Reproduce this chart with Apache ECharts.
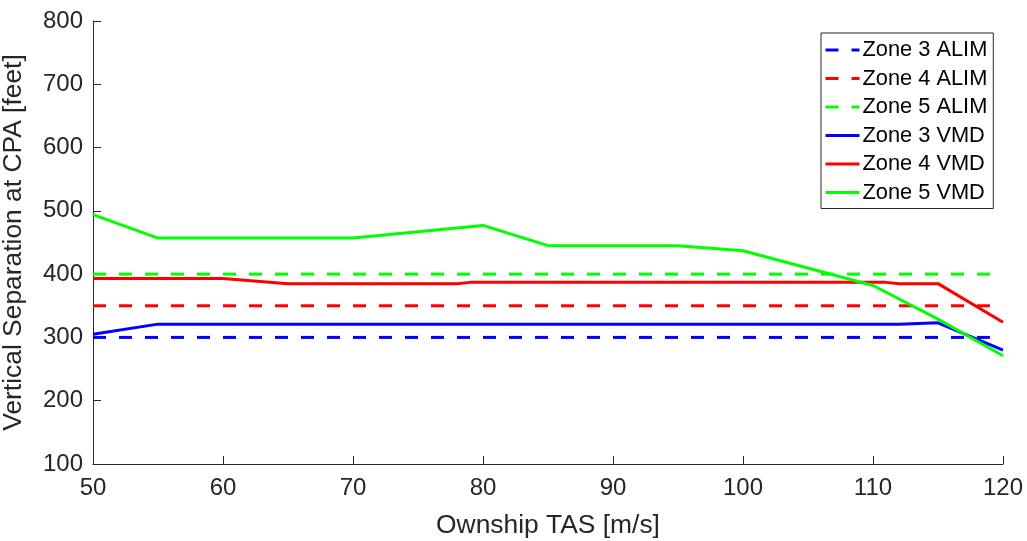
<!DOCTYPE html>
<html>
<head>
<meta charset="utf-8">
<script src="https://cdn.jsdelivr.net/npm/echarts@6/dist/echarts.min.js"></script>
<style>
  html, body { margin: 0; padding: 0; background: #fff; }
  #chart { width: 1027px; height: 541px; }
</style>
</head>
<body>
<div id="chart"></div>
<script>
// ownship true airspeed [m/s] and vertical separation at CPA [feet]
const alimTas = [50, 120];
const zone3Alim = [300, 300];
const zone4Alim = [350, 350];
const zone5Alim = [400, 400];

const zone3VmdTas = [50, 55, 112, 115, 120];
const zone3Vmd = [305, 321, 321, 323, 280];

const zone4VmdTas = [50, 60, 65, 78, 79, 111, 112, 115, 120];
const zone4Vmd = [393, 393, 385, 385, 387, 387, 385, 385, 324];

const zone5VmdTas = [50, 55, 70, 80, 85, 95, 100, 110, 115, 120];
const zone5Vmd = [494, 457, 457, 477, 445, 445, 437, 382, 329, 271];

const xTicks = [50, 60, 70, 80, 90, 100, 110, 120];
const yTicks = [100, 200, 300, 400, 500, 600, 700, 800];

const FONT = '"Liberation Sans", Arial, Helvetica, sans-serif';
const INK = '#262626';

function pairs(xs, ys) {
    return xs.map((x, i) => [x, ys[i]]);
}

function line(name, xs, ys, color, dashed) {
    return {
        name: name,
        type: 'line',
        data: pairs(xs, ys),
        symbol: 'none',
        silent: true,
        lineStyle: {
            color: color,
            width: 3,
            type: dashed ? [13, 13] : 'solid'
        },
        itemStyle: { color: color }
    };
}

let chart = echarts.init(document.getElementById('chart'));
chart.setOption({
    animation: false,
    backgroundColor: '#fff',
    textStyle: { fontFamily: FONT },
    grid: { left: 93, right: 24, top: 21, bottom: 77, containLabel: false, outerBoundsMode: 'none' },
    legend: {
        orient: 'vertical',
        left: 821,
        top: 33,
        padding: [5, 6, 4, 3],
        itemGap: 4.5,
        itemWidth: 34,
        itemHeight: 6,
        backgroundColor: '#fff',
        borderColor: INK,
        borderWidth: 1,
        borderRadius: 0,
        itemStyle: { opacity: 0 },
        lineStyle: { width: 3 },
        textStyle: {
            fontFamily: FONT,
            fontSize: 21.8,
            lineHeight: 24,
            color: '#000',
            padding: [0, 0, 0, -2]
        },
        data: ['Zone 3 ALIM', 'Zone 4 ALIM', 'Zone 5 ALIM', 'Zone 3 VMD', 'Zone 4 VMD', 'Zone 5 VMD']
    },
    xAxis: {
        type: 'value',
        min: xTicks[0],
        max: xTicks[xTicks.length - 1],
        interval: 10,
        name: 'Ownship TAS [m/s]',
        nameLocation: 'middle',
        nameGap: 49,
        nameTextStyle: { fontFamily: FONT, fontSize: 26.4, color: INK },
        axisLine: { lineStyle: { color: INK, width: 1 } },
        axisTick: { inside: true, length: 8, lineStyle: { color: INK } },
        axisLabel: { fontFamily: FONT, fontSize: 24, color: INK, margin: 12 },
        splitLine: { show: false }
    },
    yAxis: {
        type: 'value',
        min: yTicks[0],
        max: yTicks[yTicks.length - 1],
        interval: 100,
        name: 'Vertical Separation at CPA [feet]',
        nameLocation: 'middle',
        nameGap: 66,
        nameTextStyle: { fontFamily: FONT, fontSize: 26.4, color: INK },
        axisLine: { show: true, lineStyle: { color: INK, width: 1 } },
        axisTick: { show: true, inside: true, length: 8, lineStyle: { color: INK } },
        axisLabel: { fontFamily: FONT, fontSize: 24, color: INK, margin: 10 },
        splitLine: { show: false }
    },
    series: [
        line('Zone 3 ALIM', alimTas, zone3Alim, '#0000ff', true),
        line('Zone 4 ALIM', alimTas, zone4Alim, '#ff0000', true),
        line('Zone 5 ALIM', alimTas, zone5Alim, '#00ff00', true),
        line('Zone 3 VMD', zone3VmdTas, zone3Vmd, '#0000ff', false),
        line('Zone 4 VMD', zone4VmdTas, zone4Vmd, '#ff0000', false),
        line('Zone 5 VMD', zone5VmdTas, zone5Vmd, '#00ff00', false)
    ]
});
</script>
</body>
</html>
